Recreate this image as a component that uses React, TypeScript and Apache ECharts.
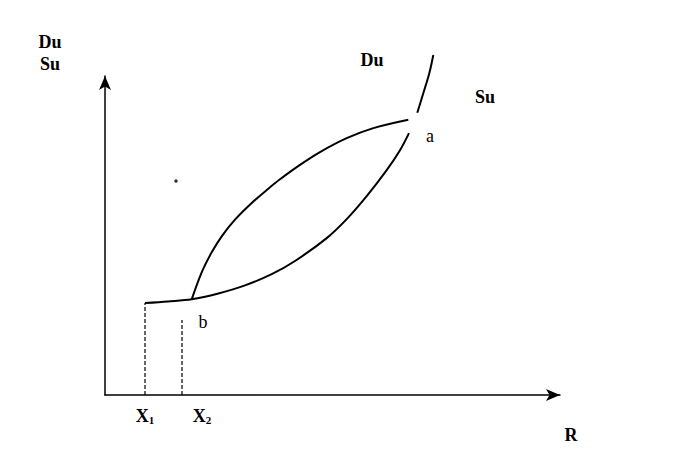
import React, { useEffect, useRef } from "react";
import * as echarts from "echarts";

// Data in chart units (x: R, y: Du/Su)
const duLower: [number, number][] = [
  [40, 92], [63, 93.6], [86.7, 95.7], [113.3, 101.5], [140, 109.6], [166.7, 120.8], [190, 134],
  [221.7, 156.9], [241.7, 175.9], [261.7, 198.9], [281.7, 224.9], [295, 244.8], [304, 261.9],
];
const duUpper: [number, number][] = [[312.3, 282.3], [318.3, 301.7], [324.3, 321.7], [328.3, 340]];
const suCurve: [number, number][] = [
  [86.7, 95.7], [96.7, 122.7], [106.7, 142.7], [116.7, 158.7], [130, 175.3], [146.7, 192],
  [163.3, 206.3], [175, 215.7], [195, 230.1], [215, 242.9], [241.7, 256.8], [268.3, 266.9], [303.3, 275.3],
];
const x1Drop: [number, number][] = [[40, 0], [40, 92]];
const x2Drop: [number, number][] = [[77, 0], [77, 75]];
const dot: [number, number][] = [[71, 214]];

const serif = "'Liberation Serif', 'Times New Roman', serif";

export default function App() {
  const ref = useRef<HTMLDivElement>(null);
  useEffect(() => {
    if (!ref.current) return;
    const chart = echarts.init(ref.current, null, { renderer: "svg" });
    const curve = (data: [number, number][], smooth: number) => ({
      type: "custom",
      data,
      encode: { x: 0, y: 1 },
      silent: true,
      renderItem: (params: any, api: any) => {
        if (params.dataIndex !== 0) return null;
        const pts = data.map((p) => api.coord(p));
        return {
          type: "polyline",
          shape: { points: pts, smooth },
          style: { stroke: "#000", lineWidth: 2, fill: null },
        };
      },
    });
    const dashed = (data: [number, number][]) => ({
      type: "line",
      data,
      symbol: "none",
      silent: true,
      lineStyle: { color: "#000", width: 1.2, type: [4, 2] },
    });
    const txt = (text: string, x: number, y: number, bold = true) => ({
      type: "text", x, y,
      style: { text, font: `${bold ? "bold " : ""}18px ${serif}`, fill: "#000", align: "center", verticalAlign: "middle" },
    });
    const sub = (main: string, s: string, x: number, y: number) => ({
      type: "text", x, y,
      style: {
        text: `{m|${main}}{s|${s}}`, align: "center", verticalAlign: "middle",
        rich: {
          m: { font: `bold 18px ${serif}`, fill: "#000" },
          s: { font: `bold 11px ${serif}`, fill: "#000", verticalAlign: "bottom", padding: [8, 0, 0, 0] },
        },
      },
    });
    chart.setOption({
      animation: false,
      backgroundColor: "#fff",
      grid: { left: 105, right: 120, top: 76, bottom: 70 },
      xAxis: {
        type: "value",
        min: 0,
        max: 455,
        axisLine: { show: true, lineStyle: { color: "#000", width: 1.5 }, symbol: ["none", "arrow"], symbolSize: [9, 14], symbolOffset: [0, 0] },
        axisTick: { show: false },
        axisLabel: { show: false },
        splitLine: { show: false },
      },
      yAxis: {
        type: "value",
        min: 0,
        max: 319,
        axisLine: { show: true, lineStyle: { color: "#000", width: 1.5 }, symbol: ["none", "arrow"], symbolSize: [9, 14], symbolOffset: [0, 0] },
        axisTick: { show: false },
        axisLabel: { show: false },
        splitLine: { show: false },
      },
      series: [
        curve(duLower, 0.33),
        curve(duUpper, 0.33),
        curve(suCurve, 0.33),
        dashed(x1Drop),
        dashed(x2Drop),
        {
          type: "scatter",
          data: dot,
          symbolSize: 3.5,
          itemStyle: { color: "#000" },
          silent: true,
        },
      ],
      graphic: [
        txt("Du", 50, 42),
        txt("Su", 50, 64),
        txt("Du", 372, 60),
        txt("Su", 485, 97),
        txt("a", 430, 136, false),
        txt("b", 203, 322, false),
        txt("R", 571, 435),
        sub("X", "1", 145, 416),
        sub("X", "2", 202, 416),
      ],
    });
    return () => chart.dispose();
  }, []);
  return <div ref={ref} style={{ position: "fixed", left: 0, top: 0, width: 680, height: 465 }} />;
}
